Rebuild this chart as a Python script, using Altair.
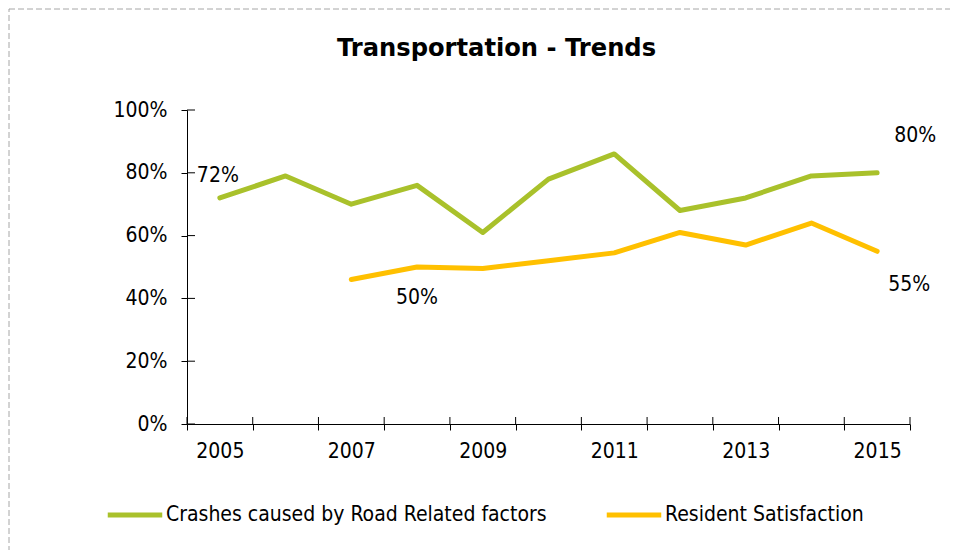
import altair as alt
import pandas as pd

# ---- data ----
years = [str(y) for y in range(2005, 2016)]
crashes = [72, 79, 70, 76, 61, 78, 86, 68, 72, 79, 80]
satisfaction_years = [str(y) for y in range(2007, 2016)]
satisfaction = [46, 50, 49.5, 52, 54.5, 61, 57, 64, 55]
series_names = ["Crashes caused by Road Related factors", "Resident Satisfaction"]
colors = ["#A9C12B", "#FFC000"]
y_ticks = [0, 20, 40, 60, 80, 100]

label_series = [series_names[0], series_names[0], series_names[1], series_names[1]]
label_years = ["2005", "2015", "2008", "2015"]
label_values = [72, 80, 50, 55]

rows = [{"year": y, "value": v, "series": series_names[0]} for y, v in zip(years, crashes)]
rows += [{"year": y, "value": v, "series": series_names[1]} for y, v in zip(satisfaction_years, satisfaction)]
df = pd.DataFrame(rows)
labels_df = pd.DataFrame({"year": label_years, "value": label_values, "series": label_series,
                          "idx": list(range(len(label_years)))})
yt_df = pd.DataFrame({"value": y_ticks})
yr_df = pd.DataFrame({"year": years})

FONT = "DejaVu Sans Condensed, DejaVu Sans"
FS = 21
W, H = 723, 314

xscale = alt.Scale(type="band", domain=years, paddingInner=0, paddingOuter=0)
yscale = alt.Scale(domain=[0, 100], nice=False)

x_axis = alt.Axis(title=None, tickBand="extent", labelAngle=0, grid=False,
                  labelExpr="toNumber(datum.label) % 2 == 1 ? datum.label : ''",
                  tickSize=6, tickColor="black", domainColor="black",
                  labelFont=FONT, labelFontSize=FS, labelColor="black", labelPadding=10)
y_axis = alt.Axis(title=None, values=y_ticks, labelExpr="datum.value + '%'", grid=False,
                  tickSize=6, tickColor="black", domainColor="black",
                  labelFont=FONT, labelFontSize=FS, labelColor="black", labelPadding=14)

def X(**kw):
    return alt.X("year:O", scale=xscale, axis=x_axis, title=None, **kw)

def Y():
    return alt.Y("value:Q", scale=yscale, axis=y_axis, title=None)

border = alt.Chart(alt.Data(values=[{"a": 1}])).mark_rect(
    fillOpacity=0, stroke="#A6A6A6", strokeDash=[6, 3], strokeWidth=1
).encode(x=alt.value(-178), x2=alt.value(900), y=alt.value(-101), y2=alt.value(600))

lines = alt.Chart(df).mark_line(strokeWidth=5, strokeCap="round", strokeJoin="round").encode(
    x=X(), y=Y(),
    color=alt.Color("series:N", scale=alt.Scale(domain=series_names, range=colors),
                    legend=alt.Legend(title=None, orient="none", direction="horizontal",
                                      legendX=-82, legendY=375, symbolType="stroke",
                                      symbolStrokeWidth=5, symbolSize=2970,
                                      labelFont=FONT, labelFontSize=FS, labelColor="black",
                                      labelOffset=1, labelLimit=700, columnPadding=49,
                                      padding=0))
)

y_inner = alt.Chart(yt_df).mark_rule(color="black", strokeWidth=1).encode(
    y=Y(), x=alt.value(0), x2=alt.value(8))
x_inner = alt.Chart(yr_df).mark_rule(color="black", strokeWidth=1).encode(
    x=X(bandPosition=0), y=alt.value(H - 7), y2=alt.value(H))
x_inner_end = alt.Chart(yr_df).transform_filter(alt.datum.year == years[-1]).mark_rule(
    color="black", strokeWidth=1).encode(
    x=X(bandPosition=1), y=alt.value(H - 7), y2=alt.value(H))

offsets = [(-2, -22), (38, -37), (0, 31), (32, 34)]
texts = []
for i, (dx, dy) in enumerate(offsets):
    texts.append(
        alt.Chart(labels_df).transform_filter(alt.datum.idx == i)
        .transform_calculate(txt="format(datum.value, '.0f') + '%'")
        .mark_text(dx=dx, dy=dy, font=FONT, fontSize=FS, color="black")
        .encode(x=X(), y=Y(), text="txt:N")
    )

chart = alt.layer(border, lines, y_inner, x_inner, x_inner_end, *texts).properties(
    width=W, height=H,
    title=alt.TitleParams("Transportation - Trends", font="DejaVu Sans", fontSize=24.2,
                          fontWeight="bold", color="black", dx=-52, offset=-72,
                          baseline="alphabetic", anchor="middle"),
    autosize=alt.AutoSizeParams(type="none"),
    padding={"left": 179, "top": 102, "right": 40, "bottom": 126},
).configure(background="white").configure_view(strokeWidth=0, stroke="transparent")

chart.save("out.html", embed_options={"renderer": "svg", "actions": False})
